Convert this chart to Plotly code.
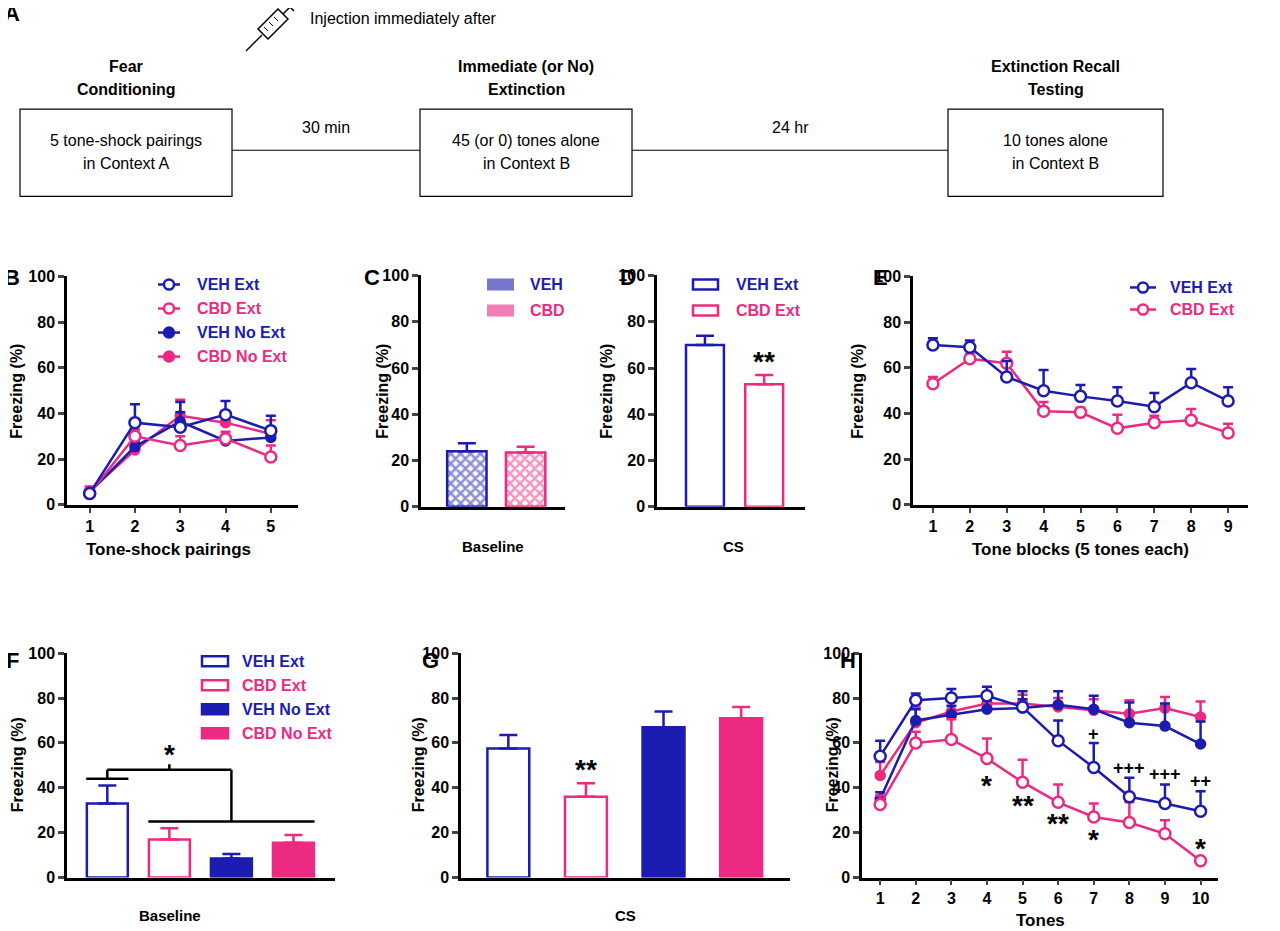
import plotly.graph_objects as go

W, H = 1280, 931
BLUE = "#1c1cb0"
PINK = "#ec2a82"
FONT = "Liberation Sans"

# ---------------- data ----------------
b_x = [1, 2, 3, 4, 5]
b_veh_ext = [5, 36, 34, 39.5, 32.5]
b_veh_ext_err = [1, 8, 11, 6, 6.5]
b_cbd_ext = [5, 30, 26, 29, 21]
b_cbd_ext_err = [1, 3, 4, 3, 5]
b_veh_noext = [5.5, 25.5, 36.5, 28, 29.5]
b_veh_noext_err = [1, 2, 4, 2, 3]
b_cbd_noext = [6, 24, 39, 36, 31]
b_cbd_noext_err = [2, 2, 7, 5, 6]

c_groups = ["VEH", "CBD"]
c_vals = [24, 23.5]
c_err = [3.5, 2.5]

d_groups = ["VEH Ext", "CBD Ext"]
d_vals = [70, 53]
d_err = [4, 4]

e_x = [1, 2, 3, 4, 5, 6, 7, 8, 9]
e_veh = [70, 69, 56, 50, 47.5, 45.5, 43, 53.5, 45.5]
e_veh_err = [3, 3, 7, 9, 5, 6, 6, 6, 6]
e_cbd = [53, 64, 62, 41, 40.5, 33.5, 36, 37, 31.5]
e_cbd_err = [3, 2, 5, 4, 2, 6, 3, 5, 4]

fg_groups = ["VEH Ext", "CBD Ext", "VEH No Ext", "CBD No Ext"]
f_vals = [33, 17, 8.5, 15.5]
f_err = [8, 5, 2, 3.5]
g_vals = [57.5, 36, 67, 71]
g_err = [6, 6, 7, 5]

h_x = [1, 2, 3, 4, 5, 6, 7, 8, 9, 10]
h_veh_ext = [54, 79, 80, 81, 76, 61, 49, 36, 33, 29.5]
h_veh_ext_err = [7, 3, 4, 4, 7, 9, 11, 8.5, 8.5, 9]
h_cbd_ext = [32.5, 60, 61.5, 53, 42.5, 33.5, 27, 24.5, 19.5, 7.5]
h_cbd_ext_err = [4, 5, 9, 9, 10, 8, 6, 9, 6, 0]
h_veh_noext = [35, 70, 72.5, 75, 75.5, 77, 75, 69, 67.5, 59.5]
h_veh_noext_err = [3, 5, 4, 4, 4, 6, 6, 9, 10, 10]
h_cbd_noext = [45.5, 69, 74, 77.5, 77.5, 76, 74.5, 73, 75.5, 71.5]
h_cbd_noext_err = [6, 7, 6, 4, 4, 4, 5, 6, 5, 7]

h_star_x = [4, 5, 6, 7, 10]
h_star_y = [41, 32, 24, 17, 13]
h_star_txt = ["*", "**", "**", "*", "*"]
h_plus_x = [7, 8, 9, 10]
h_plus_y = [64, 49, 46, 43]
h_plus_txt = ["+", "+++", "+++", "++"]

# ---------------- helpers ----------------
# compensate for page offset observed in rendering
def px(x): return (x - 8) / W
def py(y): return 1 - ((y - 17) / 0.98) / H

fig = go.Figure()
layout = dict(width=W, height=H, margin=dict(l=0, r=0, t=0, b=0),
              paper_bgcolor="white", plot_bgcolor="white", showlegend=False,
              font=dict(family=FONT, color="black"))
shapes, annots = [], []
TICKF = dict(family=FONT, size=16, color="black", weight="bold")

def axes(n, xl, xr, yt, yb, xrange, tickvals=None):
    xa = "xaxis" if n == 1 else f"xaxis{n}"
    ya = "yaxis" if n == 1 else f"yaxis{n}"
    layout[xa] = dict(domain=[px(xl), px(xr)], range=xrange, anchor=f"y{n}" if n > 1 else "y",
                      showline=True, linecolor="black", linewidth=2.5, showgrid=False, zeroline=False,
                      ticks="outside" if tickvals is not None else "",
                      ticklen=5, tickwidth=2, tickvals=tickvals if tickvals is not None else [],
                      showticklabels=tickvals is not None, tickfont=TICKF)
    layout[ya] = dict(domain=[py(yb), py(yt)], range=[0, 100], anchor=f"x{n}" if n > 1 else "x",
                      showline=True, linecolor="black", linewidth=2.5, showgrid=False, zeroline=False,
                      ticks="outside", ticklen=6, tickwidth=2.5, tickvals=[0, 20, 40, 60, 80, 100],
                      tickfont=TICKF)

def xy(n):
    return ("x", "y") if n == 1 else (f"x{n}", f"y{n}")

def line_trace(n, x, y, err, color, filled):
    xa, ya = xy(n)
    fig.add_trace(go.Scatter(x=x, y=y, xaxis=xa, yaxis=ya, mode="lines+markers",
        line=dict(color=color, width=2.5),
        marker=dict(size=11 if not filled else 9, color=color if filled else "white",
                    line=dict(color=color, width=2.5), symbol="circle"),
        error_y=dict(type="data", array=err, arrayminus=[0]*len(err), color=color, thickness=2.5, width=5),
        cliponaxis=False))

def bar_trace(n, x, y, err, color, filled, width, pattern=None):
    xa, ya = xy(n)
    mk = dict(color=color if filled else "white", line=dict(color=color, width=2.5))
    if pattern:
        mk = dict(color="white", line=dict(color=color, width=2.5),
                  pattern=dict(shape="x", fgcolor=color, bgcolor="white", size=7, solidity=0.6, fillmode="overlay"))
    fig.add_trace(go.Bar(x=x, y=y, xaxis=xa, yaxis=ya, width=width, marker=mk,
        error_y=dict(type="data", array=err, arrayminus=[0]*len(err), color=color, thickness=2.5, width=9)))

def text(x, y, s, size=16, color="black", bold=True, angle=0, xanchor="center"):
    annots.append(dict(xref="paper", yref="paper", x=px(x), y=py(y), text=s, showarrow=False,
                       font=dict(family=FONT, size=size, color=color, weight="bold" if bold else "normal"),
                       textangle=angle, xanchor=xanchor, yanchor="middle"))

def pline(x0, y0, x1, y1, color="black", w=1.5):
    shapes.append(dict(type="line", xref="paper", yref="paper", x0=px(x0), y0=py(y0), x1=px(x1), y1=py(y1),
                       line=dict(color=color, width=w)))

def prect(x0, y0, x1, y1, color="black", fill="white", w=1.5):
    shapes.append(dict(type="rect", xref="paper", yref="paper", x0=px(x0), y0=py(y0), x1=px(x1), y1=py(y1),
                       line=dict(color=color, width=w), fillcolor=fill))

def pcircle(cx, cy, r, color, filled):
    shapes.append(dict(type="circle", xref="paper", yref="paper", x0=px(cx-r), x1=px(cx+r), y0=py(cy+r), y1=py(cy-r),
                       line=dict(color=color, width=2.5), fillcolor=color if filled else "white"))

# ---------------- panel A ----------------
for (x0, x1, l1, l2, t1, t2) in [(20, 232, "5 tone-shock pairings", "in Context A", "Fear", "Conditioning"),
                                  (420, 632, "45 (or 0) tones alone", "in Context B", "Immediate (or No)", "Extinction"),
                                  (948, 1163, "10 tones alone", "in Context B", "Extinction Recall", "Testing")]:
    prect(x0, 110, x1, 197, w=1.2)
    cx = (x0 + x1) / 2
    text(cx, 141, l1, size=16, bold=False)
    text(cx, 164, l2, size=16, bold=False)
    text(cx, 67, t1, size=16)
    text(cx, 90, t2, size=16)
pline(232, 151, 420, 151, w=1.2)
pline(632, 151, 948, 151, w=1.2)
text(326, 128, "30 min", size=16, bold=False)
text(790, 128, "24 hr", size=16, bold=False)
text(308, 19, "Injection immediately after", size=16, bold=False, xanchor="left")
# syringe icon
shapes.append(dict(type="path", xref="paper", yref="paper",
    path=f"M {px(258)},{py(30)} L {px(278)},{py(10)} L {px(288)},{py(20)} L {px(268)},{py(40)} Z",
    line=dict(color="black", width=1.5), fillcolor="white"))
pline(262, 36, 246, 52, w=1.5)
pline(283, 15, 291, 7, w=1.5)
pline(286, 4, 294, 12, w=1.5)
for k in range(3):
    pline(264 + 5*k, 28 - 5*k, 268 + 5*k, 32 - 5*k, w=1)

# panel letters
for (lx, ly, L) in [(12, 15, "A"), (12, 278, "B"), (372, 278, "C"), (628, 278, "D"), (880, 278, "E"),
                    (12, 660, "F"), (430, 660, "G"), (848, 660, "H")]:
    text(lx, ly, L, size=22)

# ---------------- B ----------------
axes(1, 67, 298, 277, 505, [0.5, 5.6], tickvals=b_x)
line_trace(1, b_x, b_cbd_noext, b_cbd_noext_err, PINK, True)
line_trace(1, b_x, b_veh_noext, b_veh_noext_err, BLUE, True)
line_trace(1, b_x, b_cbd_ext, b_cbd_ext_err, PINK, False)
line_trace(1, b_x, b_veh_ext, b_veh_ext_err, BLUE, False)
text(168, 550, "Tone-shock pairings", size=17)
text(17, 392, "Freezing (%)", size=16, angle=-90)
for i, (lab, col, fl) in enumerate([("VEH Ext", BLUE, False), ("CBD Ext", PINK, False),
                                     ("VEH No Ext", BLUE, True), ("CBD No Ext", PINK, True)]):
    yy = 285 + i * 24
    pline(158, yy, 180, yy, col, 2.5)
    pcircle(169, yy, 5, col, fl)
    text(195, yy, lab, size=16, color=col, xanchor="left")

# ---------------- C ----------------
axes(2, 421, 565, 276, 507, [-0.78, 1.67])
bar_trace(2, [0], [c_vals[0]], [c_err[0]], BLUE, False, 0.67, pattern=True)
bar_trace(2, [1], [c_vals[1]], [c_err[1]], PINK, False, 0.67, pattern=True)
text(493, 547, "Baseline", size=15)
text(383, 392, "Freezing (%)", size=16, angle=-90)
for i, (lab, col) in enumerate([("VEH", BLUE), ("CBD", PINK)]):
    yy = 285 + i * 26
    shapes.append(dict(type="rect", xref="paper", yref="paper", x0=px(488), x1=px(513), y0=py(yy+5), y1=py(yy-5),
                       line=dict(color=col, width=2), fillcolor=col, opacity=0.6))
    text(528, yy, lab, size=16, color=col, xanchor="left")

# ---------------- D ----------------
axes(3, 657, 805, 276, 507, [-0.81, 1.69])
bar_trace(3, [0], [d_vals[0]], [d_err[0]], BLUE, False, 0.64)
bar_trace(3, [1], [d_vals[1]], [d_err[1]], PINK, False, 0.64)
annots.append(dict(xref="x3", yref="y3", x=1, y=63, text="**", showarrow=False,
                   font=dict(family=FONT, size=28, weight="bold")))
text(733, 547, "CS", size=15)
text(607, 392, "Freezing (%)", size=16, angle=-90)
for i, (lab, col) in enumerate([("VEH Ext", BLUE), ("CBD Ext", PINK)]):
    yy = 285 + i * 26
    prect(693, yy - 5, 718, yy + 5, color=col, w=2.5)
    text(734, yy, lab, size=16, color=col, xanchor="left")

# ---------------- E ----------------
axes(4, 913, 1248, 277, 505, [0.46, 9.54], tickvals=e_x)
line_trace(4, e_x, e_cbd, e_cbd_err, PINK, False)
line_trace(4, e_x, e_veh, e_veh_err, BLUE, False)
text(1080, 550, "Tone blocks (5 tones each)", size=17)
text(858, 392, "Freezing (%)", size=16, angle=-90)
for i, (lab, col) in enumerate([("VEH Ext", BLUE), ("CBD Ext", PINK)]):
    yy = 288 + i * 22
    pline(1130, yy, 1156, yy, col, 2.5)
    pcircle(1143, yy, 5, col, False)
    text(1168, yy, lab, size=16, color=col, xanchor="left")

# ---------------- F ----------------
axes(5, 67, 335, 653, 877, [-0.65, 3.67])
f_cols = [BLUE, PINK, BLUE, PINK]
f_fill = [False, False, True, True]
for i in range(4):
    bar_trace(5, [i], [f_vals[i]], [f_err[i]], f_cols[i], f_fill[i], 0.66)
for (a, b, c, d) in [(-0.34, 44, 0.34, 44), (0, 44, 0, 48), (0, 48, 2, 48), (2, 48, 2, 25),
                     (0.66, 25, 3.34, 25), (1, 48, 1, 50.5)]:
    shapes.append(dict(type="line", xref="x5", yref="y5", x0=a, y0=b, x1=c, y1=d,
                       line=dict(color="black", width=2.5)))
annots.append(dict(xref="x5", yref="y5", x=1, y=55, text="*", showarrow=False,
                   font=dict(family=FONT, size=28, weight="bold")))
text(170, 915, "Baseline", size=15)
text(17, 765, "Freezing (%)", size=16, angle=-90)
for i, (lab, col, fl) in enumerate([("VEH Ext", BLUE, False), ("CBD Ext", PINK, False),
                                     ("VEH No Ext", BLUE, True), ("CBD No Ext", PINK, True)]):
    yy = 661 + i * 24
    prect(202, yy - 5, 228, yy + 5, color=col, fill=col if fl else "white", w=2.5)
    text(240, yy, lab, size=16, color=col, xanchor="left")

# ---------------- G ----------------
axes(6, 461, 790, 653, 877, [-0.61, 3.63])
for i in range(4):
    bar_trace(6, [i], [g_vals[i]], [g_err[i]], f_cols[i], f_fill[i], 0.54)
annots.append(dict(xref="x6", yref="y6", x=1, y=48, text="**", showarrow=False,
                   font=dict(family=FONT, size=28, weight="bold")))
text(625, 915, "CS", size=15)
text(418, 765, "Freezing (%)", size=16, angle=-90)

# ---------------- H ----------------
axes(7, 862, 1218, 653, 877, [0.49, 10.49], tickvals=h_x)
line_trace(7, h_x, h_cbd_noext, h_cbd_noext_err, PINK, True)
line_trace(7, h_x, h_veh_noext, h_veh_noext_err, BLUE, True)
line_trace(7, h_x, h_cbd_ext, h_cbd_ext_err, PINK, False)
line_trace(7, h_x, h_veh_ext, h_veh_ext_err, BLUE, False)
for xx, yy, t in zip(h_star_x, h_star_y, h_star_txt):
    annots.append(dict(xref="x7", yref="y7", x=xx, y=yy, text=t, showarrow=False,
                       font=dict(family=FONT, size=28, weight="bold")))
for xx, yy, t in zip(h_plus_x, h_plus_y, h_plus_txt):
    annots.append(dict(xref="x7", yref="y7", x=xx, y=yy, text=t, showarrow=False,
                       font=dict(family=FONT, size=18, weight="bold")))
text(1040, 920, "Tones", size=17)
text(832, 765, "Freezing (%)", size=16, angle=-90)

layout["shapes"] = shapes
layout["annotations"] = annots
fig.update_layout(**layout)
fig.write_html("out.html")
